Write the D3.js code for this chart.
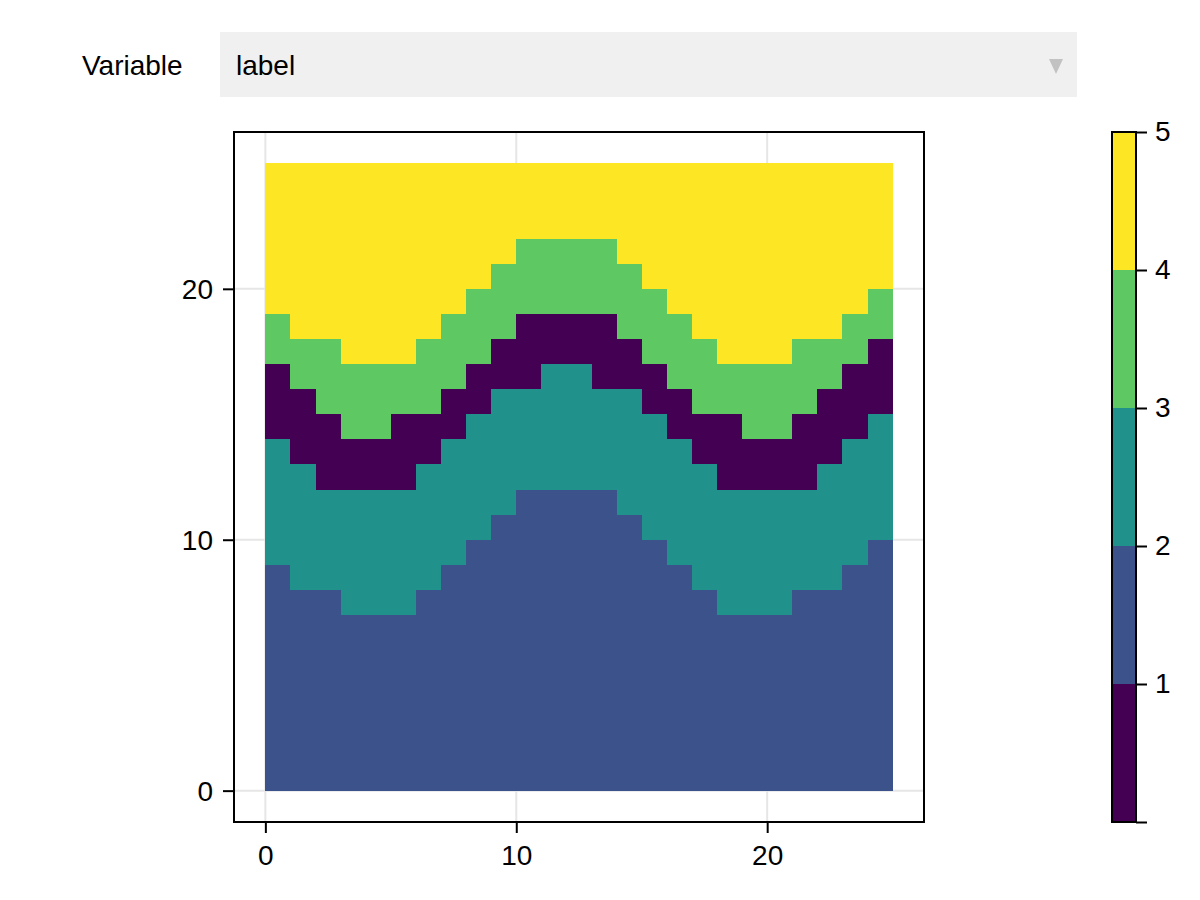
<!DOCTYPE html>
<html>
<head>
<meta charset="utf-8">
<script src="https://cdn.jsdelivr.net/npm/d3@7"></script>
<style>
  body { margin: 0; background: #fff; }
  svg { display: block; }
  text { font-family: "Liberation Sans", Arial, sans-serif; font-size: 28px; fill: #000; }
</style>
</head>
<body>
<div id="chart"></div>
<script>
// data
var columns = d3.range(0, 25);
// top edge of each band, one value per column
var band2Top = [9,8,8,7,7,7,8,9,10,11,12,12,12,12,11,10,9,8,7,7,7,8,8,9,10];
var band3Top = [14,13,12,12,12,12,13,14,15,16,16,17,17,16,16,15,14,13,12,12,12,12,13,14,15];
var band1Top = [17,16,15,14,14,15,15,16,17,18,19,19,19,19,18,17,16,15,15,14,14,15,16,17,18];
var band4Top = [19,18,18,17,17,17,18,19,20,21,22,22,22,22,21,20,19,18,17,17,17,18,18,19,20];
var band5Top = [25,25,25,25,25,25,25,25,25,25,25,25,25,25,25,25,25,25,25,25,25,25,25,25,25];

var stackOrder = [2, 3, 1, 4, 5];
var stackTops = [band2Top, band3Top, band1Top, band4Top, band5Top];

var labelColors = ["#440154", "#3b528b", "#21918c", "#5ec962", "#fde725"];
var colorbarLevels = [1, 2, 3, 4, 5];
var axisTicks = [0, 10, 20];
var colorbarTicks = [0, 1, 2, 3, 4, 5];

var menuLabel = "Variable";
var menuValue = "label";

var svg = d3.select("#chart").append("svg")
            .attr("width", 1200)
            .attr("height", 900);

// menu
svg.append("text").attr("x", 82).attr("y", 75).text(menuLabel);
svg.append("rect")
   .attr("x", 220).attr("y", 32)
   .attr("width", 857).attr("height", 65)
   .attr("fill", "#f0f0f0");
svg.append("text").attr("x", 236).attr("y", 75).text(menuValue);
svg.append("path")
   .attr("d", "M1049,59L1063,59L1056,74Z")
   .attr("fill", "#c2c2c2");

// scales
var xScale = d3.scaleLinear().domain([-1.25, 26.25]).range([234, 924]);
var yScale = d3.scaleLinear().domain([-1.25, 26.25]).range([822, 132]);
var colorbarScale = d3.scaleLinear().domain([0, 5]).range([822, 132]);
var colorScale = d3.scaleOrdinal().domain(colorbarLevels).range(labelColors);

// grid
var gridGroup = svg.append("g")
                   .attr("stroke", "#e6e6e6")
                   .attr("stroke-width", 2);
axisTicks.forEach(function(t) {
  gridGroup.append("line")
           .attr("x1", xScale(t)).attr("x2", xScale(t))
           .attr("y1", 132).attr("y2", 822);
  gridGroup.append("line")
           .attr("y1", yScale(t)).attr("y2", yScale(t))
           .attr("x1", 234).attr("x2", 924);
});

// heatmap, one rect per run of equal label in a column
var segments = [];
columns.forEach(function(c, i) {
  var bottom = 0;
  stackTops.forEach(function(tops, k) {
    segments.push({col: c, y0: bottom, y1: tops[i], label: stackOrder[k]});
    bottom = tops[i];
  });
});

svg.append("g").selectAll("rect")
   .data(segments)
   .enter()
   .append("rect")
   .attr("shape-rendering", "crispEdges")
   .attr("x", d => xScale(d.col))
   .attr("width", d => xScale(d.col + 1) - xScale(d.col))
   .attr("y", d => yScale(d.y1))
   .attr("height", d => yScale(d.y0) - yScale(d.y1))
   .attr("fill", d => colorScale(d.label));

// frame
svg.append("rect")
   .attr("x", 234).attr("y", 132)
   .attr("width", 690).attr("height", 690)
   .attr("fill", "none")
   .attr("stroke", "#000")
   .attr("stroke-width", 2);

// axes
var bottomAxis = d3.axisBottom(xScale).tickValues(axisTicks).tickSize(11).tickPadding(11);
var leftAxis = d3.axisLeft(yScale).tickValues(axisTicks).tickSize(11).tickPadding(10);

var xAxisGroup = svg.append("g").attr("transform", "translate(0,822)").call(bottomAxis);
var yAxisGroup = svg.append("g").attr("transform", "translate(234,0)").call(leftAxis);

// colorbar
svg.append("g").selectAll("rect")
   .data(colorbarLevels)
   .enter()
   .append("rect")
   .attr("shape-rendering", "crispEdges")
   .attr("x", 1112)
   .attr("width", 24)
   .attr("y", d => colorbarScale(d))
   .attr("height", d => colorbarScale(d - 1) - colorbarScale(d))
   .attr("fill", d => colorScale(d));

svg.append("rect")
   .attr("x", 1112).attr("y", 132)
   .attr("width", 24).attr("height", 690)
   .attr("fill", "none")
   .attr("stroke", "#000")
   .attr("stroke-width", 2);

var rightAxis = d3.axisRight(colorbarScale)
                  .tickValues(colorbarTicks)
                  .tickSize(11)
                  .tickPadding(8)
                  .tickFormat(d => d === 0 ? "" : d);

var barAxisGroup = svg.append("g").attr("transform", "translate(1136,0)").call(rightAxis);

[xAxisGroup, yAxisGroup, barAxisGroup].forEach(function(g) {
  g.select(".domain").remove();
  g.selectAll("line").attr("stroke", "#000").attr("stroke-width", 2);
  g.selectAll("text").style("font-size", "28px").style("font-family", "'Liberation Sans', Arial, sans-serif");
});
// the labels are bigger than d3 assumes, so fix the baselines
xAxisGroup.selectAll("text").attr("dy", "0.75em");
yAxisGroup.selectAll("text").attr("dy", "0.36em");
barAxisGroup.selectAll("text").attr("dy", "0.32em");
</script>
</body>
</html>
